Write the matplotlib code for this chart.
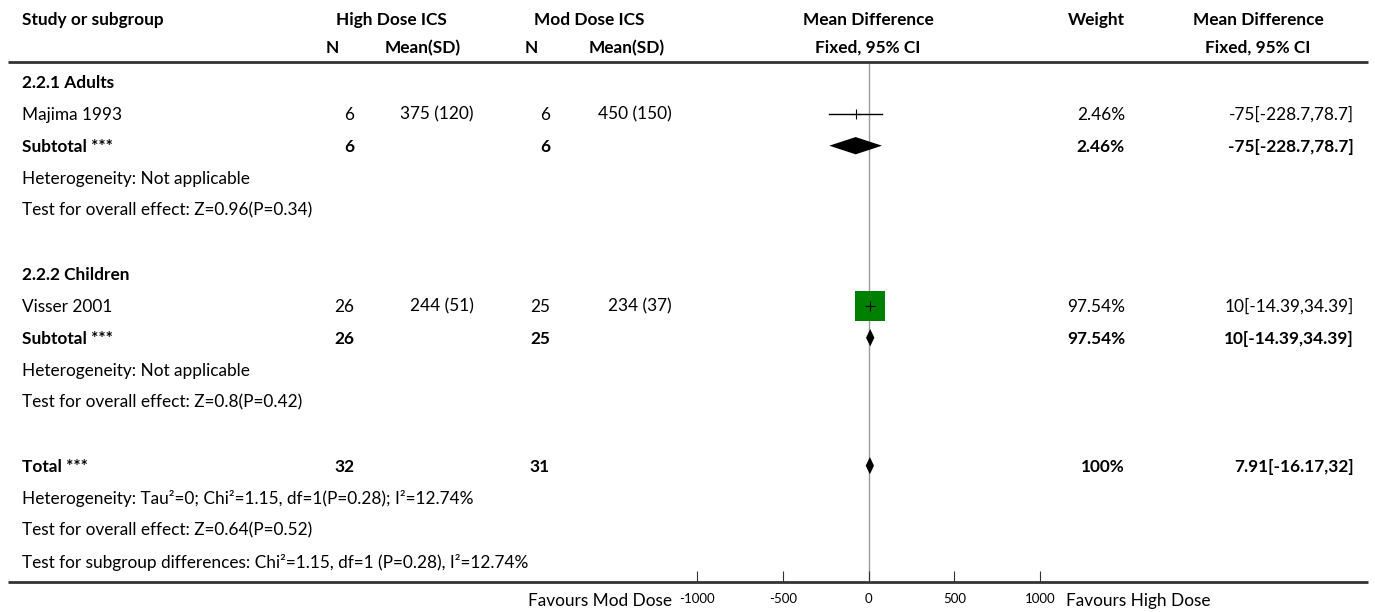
import numpy as np
import matplotlib.pyplot as plt

# study level data
studies = ['Majima 1993', 'Visser 2001']
high_n = [6, 26]
high_mean = [375, 244]
high_sd = [120, 51]
mod_n = [6, 25]
mod_mean = [450, 234]
mod_sd = [150, 37]
md = [-75, 10]
md_lo = [-228.7, -14.39]
md_hi = [78.7, 34.39]
weight = [2.46, 97.54]

# subgroups
groups = ['2.2.1 Adults', '2.2.2 Children']
sub_n_high = [6, 26]
sub_n_mod = [6, 25]
sub_md = [-75, 10]
sub_lo = [-228.7, -14.39]
sub_hi = [78.7, 34.39]
sub_weight = [2.46, 97.54]
sub_het = ['Heterogeneity: Not applicable', 'Heterogeneity: Not applicable']
sub_test = ['Test for overall effect: Z=0.96(P=0.34)', 'Test for overall effect: Z=0.8(P=0.42)']

# overall
tot_n_high = 32
tot_n_mod = 31
tot_md = 7.91
tot_lo = -16.17
tot_hi = 32
tot_het = 'Heterogeneity: Tau\u00b2=0; Chi\u00b2=1.15, df=1(P=0.28); I\u00b2=12.74%'
tot_test = 'Test for overall effect: Z=0.64(P=0.52)'
subgroup_test = 'Test for subgroup differences: Chi\u00b2=1.15, df=1 (P=0.28), I\u00b2=12.74%'

xticks = [-1000, -500, 0, 500, 1000]

plt.rcParams['font.family'] = ['Lato', 'DejaVu Sans']
FS = 12.4
W, H = 1375, 612

fig = plt.figure(figsize=(W / 100, H / 100), dpi=100)
ax = fig.add_axes([0, 0, 1, 1])
ax.set_xlim(0, W)
ax.set_ylim(H, 0)
ax.axis('off')

# forest axes: x from -1000 (px 697) to 1000 (px 1040), rows from px 64 to 582
x0, x1 = 697, 1040
y_top, y_bot = 64, 582
row0, step = 81.7, 32
fx = fig.add_axes([x0 / W, 1 - y_bot / H, (x1 - x0) / W, (y_bot - y_top) / H])
fx.set_xlim(-1000, 1000)
fx.set_ylim((y_bot - row0) / step, (y_top - row0) / step)
fx.patch.set_alpha(0)
for s in ['left', 'right', 'top', 'bottom']:
    fx.spines[s].set_visible(False)
fx.set_yticks([])
fx.set_xticks(xticks)
fx.set_xticklabels([str(t) for t in xticks], fontsize=9.5)
fx.tick_params(axis='x', direction='in', length=8, width=0.8, pad=8, color='#333333')
fx.axvline(0, color='#999999', lw=1, zorder=0)


def ry(r):
    return row0 + step * r


def txt(x, y, s, ha='left', bold=False, fs=FS):
    # y is the visual centre of the capitals; place by baseline
    ax.text(x, y + 6, s, ha=ha, va='baseline', fontsize=fs,
            fontweight='bold' if bold else 'normal', color='black')


def diamond(r, m, lo, hi, hh):
    fx.fill([lo, m, hi, m], [r, r - hh, r, r + hh], color='black', lw=0, clip_on=False)


# header
hy1, hy2 = 19, 47
txt(22, hy1, 'Study or subgroup', bold=True)
txt(391, hy1, 'High Dose ICS', ha='center', bold=True)
txt(589, hy1, 'Mod Dose ICS', ha='center', bold=True)
txt(868, hy1, 'Mean Difference', ha='center', bold=True)
txt(1125, hy1, 'Weight', ha='right', bold=True)
txt(1258, hy1, 'Mean Difference', ha='center', bold=True)
txt(339, hy2, 'N', ha='right', bold=True)
txt(461, hy2, 'Mean(SD)', ha='right', bold=True)
txt(538, hy2, 'N', ha='right', bold=True)
txt(665, hy2, 'Mean(SD)', ha='right', bold=True)
txt(868, hy2, 'Fixed, 95% CI', ha='center', bold=True)
txt(1258, hy2, 'Fixed, 95% CI', ha='center', bold=True)
ax.plot([8, 1368], [62, 62], color='#333333', lw=2, solid_capstyle='butt')

maxw = max(weight)
for i in range(len(groups)):
    r = i * 6
    txt(22, ry(r), groups[i], bold=True)
    # study row
    y = ry(r + 1)
    txt(22, y, studies[i])
    txt(354, y, str(high_n[i]), ha='right')
    txt(474, y, '%d (%d)' % (high_mean[i], high_sd[i]), ha='right')
    txt(550, y, str(mod_n[i]), ha='right')
    txt(672, y, '%d (%d)' % (mod_mean[i], mod_sd[i]), ha='right')
    txt(1125, y, '%g%%' % weight[i], ha='right')
    txt(1354, y, '%g[%g,%g]' % (md[i], md_lo[i], md_hi[i]), ha='right')
    fx.plot([md_lo[i], md_hi[i]], [r + 1, r + 1], color='black', lw=1, clip_on=False)
    fx.plot(md[i], r + 1, marker='s', color='#008000', ms=21.6 * weight[i] / maxw,
            mew=0, ls='none', clip_on=False)
    fx.plot(md[i], r + 1, marker='+', color='black', ms=7, mew=0.8, ls='none', clip_on=False)
    # subtotal row
    y = ry(r + 2)
    txt(22, y, 'Subtotal ***', bold=True)
    txt(354, y, str(sub_n_high[i]), ha='right', bold=True)
    txt(550, y, str(sub_n_mod[i]), ha='right', bold=True)
    txt(1125, y, '%g%%' % sub_weight[i], ha='right', bold=True)
    txt(1354, y, '%g[%g,%g]' % (sub_md[i], sub_lo[i], sub_hi[i]), ha='right', bold=True)
    diamond(r + 2, sub_md[i], sub_lo[i], sub_hi[i], 0.27)
    txt(22, ry(r + 3), sub_het[i])
    txt(22, ry(r + 4), sub_test[i])

# total
y = ry(12)
txt(22, y, 'Total ***', bold=True)
txt(354, y, str(tot_n_high), ha='right', bold=True)
txt(550, y, str(tot_n_mod), ha='right', bold=True)
txt(1125, y, '100%', ha='right', bold=True)
txt(1354, y, '%g[%g,%g]' % (tot_md, tot_lo, tot_hi), ha='right', bold=True)
diamond(12, tot_md, tot_lo, tot_hi, 0.27)
txt(22, ry(13), tot_het)
txt(22, ry(14), tot_test)
txt(22, ry(15), subgroup_test)

# bottom axis line and favours labels
ax.plot([8, 1368], [582, 582], color='#333333', lw=2, solid_capstyle='butt')
txt(672, 600, 'Favours Mod Dose', ha='right')
txt(1066, 600, 'Favours High Dose')

fig.savefig('out.png', dpi=100)
